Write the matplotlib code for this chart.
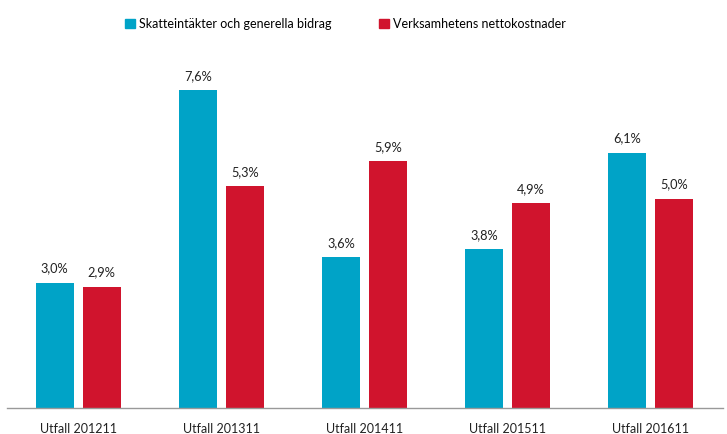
import matplotlib
matplotlib.use("Agg")
import matplotlib.pyplot as plt
import numpy as np
from matplotlib.patches import Patch

categories = ["Utfall 201211", "Utfall 201311", "Utfall 201411", "Utfall 201511", "Utfall 201611"]
skatt = [3.0, 7.6, 3.6, 3.8, 6.1]
verks = [2.9, 5.3, 5.9, 4.9, 5.0]
series_names = ["Skatteintäkter och generella bidrag", "Verksamhetens nettokostnader"]
colors = ["#00A3C7", "#D0142D"]

plt.rcParams['font.family'] = ['Lato', 'DejaVu Sans']

fig = plt.figure(figsize=(7.27, 4.34), dpi=100)
ax = fig.add_axes([6.5/727, 26/434, 716/727, 368/434])

x = np.arange(len(categories))
w = 0.265
off = 0.164
b1 = ax.bar(x - off, skatt, w, color=colors[0])
b2 = ax.bar(x + off, verks, w, color=colors[1])

for bars, vals in ((b1, skatt), (b2, verks)):
    for r, v in zip(bars, vals):
        ax.annotate(f"{v:.1f}%".replace(".", ","), (r.get_x() + r.get_width()/2, v),
                    xytext=(0, 6), textcoords="offset points", ha="center", va="bottom",
                    fontsize=9.2, color="#222222")

ax.set_xlim(-0.5, 4.5)
ax.set_ylim(0, 8.8)
ax.set_yticks([])
ax.set_xticks(x)
ax.set_xticklabels(categories, fontsize=9, color="#222222")
ax.tick_params(axis='x', length=0, pad=11)
for s in ["top", "right", "left"]:
    ax.spines[s].set_visible(False)
ax.spines["bottom"].set_color("#999999")
ax.spines["bottom"].set_linewidth(1)

handles = [Patch(color=c) for c in colors]
fig.legend(handles, series_names, loc="center", bbox_to_anchor=(0.475, 0.945), ncol=2,
           frameon=False, fontsize=9, handlelength=0.8, handleheight=0.8,
           handletextpad=0.3, columnspacing=3.8)

fig.savefig("out.png", dpi=100)
